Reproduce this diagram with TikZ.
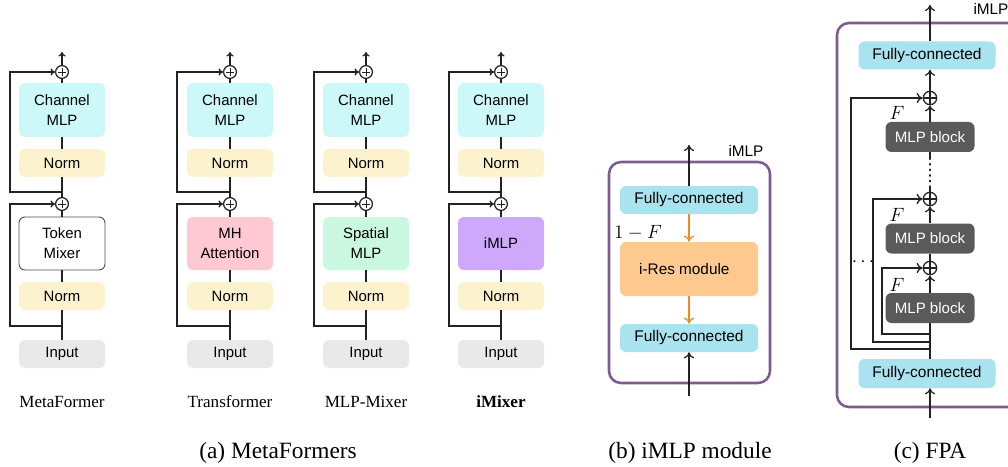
\documentclass[tikz,border=0pt]{standalone}
\usepackage{fontspec}
\setmainfont{Liberation Serif}
\setsansfont{Liberation Sans}
\usetikzlibrary{arrows.meta,calc}
\definecolor{cmlp}{HTML}{CDF8FA}
\definecolor{normc}{HTML}{FCF3CE}
\definecolor{inputc}{HTML}{E9E9E9}
\definecolor{attn}{HTML}{FFC9D4}
\definecolor{spatial}{HTML}{C9F7DF}
\definecolor{imlpc}{HTML}{CDA8FB}
\definecolor{fcc}{HTML}{A8E3EF}
\definecolor{iresc}{HTML}{FEC98E}
\definecolor{mlpblk}{HTML}{5A5A5A}
\definecolor{framec}{HTML}{7D5B8F}
\definecolor{orangec}{HTML}{F08A24}
\definecolor{linec}{HTML}{222222}
\newcommand{\mfcol}[5]{%
 \node[plusA] (#1p1) at (#2,72) {};
 \node[box,fill=cmlp,minimum height=40.5pt] (#1cm) at (#2,110) {Channel\\MLP};
 \node[box,fill=normc] (#1na) at (#2,163) {Norm};
 \node[plusA] (#1p2) at (#2,204) {};
 \node[box,#4,minimum height=39.75pt] (#1tm) at (#2,243.5) {#3};
 \node[box,fill=normc] (#1nb) at (#2,296) {Norm};
 \node[box,fill=inputc] (#1in) at (#2,354) {Input};
 \coordinate (#1top) at (#2,52);
 \coordinate (#1ja) at (#2,192);
 \coordinate (#1jb) at (#2,326);
 \draw[ln,arr] (#1p1) -- (#1top);
 \draw[ln] (#1p1) -- (#1cm);
 \draw[ln] (#1cm) -- (#1na);
 \draw[ln] (#1na) -- (#1p2);
 \draw[ln] (#1p2) -- (#1tm);
 \draw[ln] (#1tm) -- (#1nb);
 \draw[ln] (#1nb) -- (#1in);
 \draw[ln,arr] (#1ja) -- ++(-#5,0) |- (#1p1.west);
 \draw[ln,arr] (#1jb) -- ++(-#5,0) |- (#1p2.west);
}
\begin{document}
\begin{tikzpicture}[x=0.75pt,y=-0.75pt,
  ln/.style={draw=linec,line width=0.95pt},
  arr/.style={-{To[length=3.4pt,width=5.4pt]}},
  arrB/.style={-{To[length=4.6pt,width=7.6pt]}},
  box/.style={rectangle,rounded corners=4.5pt,minimum width=64.5pt,minimum height=21pt,
    inner sep=0pt,align=center,font=\sffamily\fontsize{11.2}{15}\selectfont,text=black},
  plusA/.style={circle,draw=linec,line width=0.9pt,minimum size=9.6pt,inner sep=0pt,fill=white,
    path picture={\draw[line width=0.7pt] ([xshift=-2.8pt]path picture bounding box.center) -- ([xshift=2.8pt]path picture bounding box.center);
      \draw[line width=0.7pt] ([yshift=-2.8pt]path picture bounding box.center) -- ([yshift=2.8pt]path picture bounding box.center);}},
  oplusC/.style={circle,draw=linec,line width=0.95pt,minimum size=10pt,inner sep=0pt,fill=white,
    path picture={\draw[line width=0.9pt] (path picture bounding box.west) -- (path picture bounding box.east);
      \draw[line width=0.9pt] (path picture bounding box.north) -- (path picture bounding box.south);}},
  fcbox/.style={box,fill=fcc,minimum width=103.5pt,minimum height=21pt,font=\sffamily\fontsize{11.6}{14}\selectfont},
  blk/.style={box,fill=mlpblk,text=white,minimum width=66.75pt,minimum height=22.5pt,font=\sffamily\fontsize{11.3}{14}\selectfont},
  lbl/.style={font=\fontsize{12.8}{15}\selectfont},
  captxt/.style={font=\fontsize{17.5}{20}\selectfont},
  mathlbl/.style={font=\fontsize{14}{16}\selectfont,inner sep=0pt},
  sflbl/.style={font=\sffamily\fontsize{11.5}{14}\selectfont,inner sep=0pt}
]
\useasboundingbox (0,0) rectangle (1008,467);
\begin{scope}
\clip (0,0) rectangle (1008,467);
% ---------- (a) MetaFormers ----------
\mfcol{a}{62}{Token\\Mixer}{fill=white,draw=linec!80,line width=0.7pt}{52}
\mfcol{b}{230}{MH\\Attention}{fill=attn}{53}
\mfcol{c}{366}{Spatial\\MLP}{fill=spatial}{52}
\mfcol{d}{501}{iMLP}{fill=imlpc}{52}
\node[lbl] (la) at (62,402) {MetaFormer};
\node[lbl] (lb) at (230,402) {Transformer};
\node[lbl] (lc) at (366,402) {MLP-Mixer};
\node[lbl] (ld) at (501,402) {\bfseries iMixer};
\node[captxt] (capa) at (278,453) {(a) MetaFormers};
% ---------- (b) iMLP module ----------
\draw[draw=framec,line width=1.9pt,rounded corners=9pt] (609,162) rectangle (770,383);
\node[fcbox] (bfa) at (689,200) {Fully-connected};
\node[box,fill=iresc,minimum width=103.5pt,minimum height=40.5pt,font=\sffamily\fontsize{11.5}{14}\selectfont] (bres) at (689,269) {\hspace*{-7pt}i-Res module};
\node[fcbox] (bfb) at (689,338) {Fully-connected};
\coordinate (btop) at (689,145);
\coordinate (bbot) at (689,396);
\draw[ln,arrB] (bfa) -- (btop);
\draw[ln,arrB] (bbot) -- (bfb);
\draw[draw=orangec,line width=0.95pt,arrB] (bfa) -- (bres);
\draw[draw=orangec,line width=0.95pt,arrB] (bres) -- (bfb);
\node[mathlbl] (bF) at (638,233) {$1-F$};
\node[sflbl] (bim) at (746,151) {iMLP};
\node[captxt] (capb) at (690,453) {(b) iMLP module};
% ---------- (c) FPA ----------
\draw[draw=framec,line width=1.9pt,rounded corners=9pt] (837,23) rectangle (1030,407);
\node[fcbox,minimum width=102.75pt] (cfa) at (927,55.5) {Fully-connected};
\node[oplusC] (cpa) at (930,98) {};
\node[blk] (cka) at (930,137) {MLP block};
\node[oplusC] (cpb) at (930,199) {};
\node[blk] (ckb) at (930,238.5) {MLP block};
\node[oplusC] (cpc) at (930,268) {};
\node[blk] (ckc) at (930,308) {MLP block};
\node[fcbox,minimum width=102.75pt,minimum height=21.75pt] (cfb) at (927,373.5) {Fully-connected};
\coordinate (ctop) at (930,5);
\coordinate (cbot) at (930,418);
\coordinate (cja) at (930,334);
\coordinate (cjb) at (930,342);
\coordinate (cjc) at (930,349);
\coordinate (cda) at (930,158);
\coordinate (cdb) at (930,186);
\draw[ln,arrB] (cfa.north -| ctop) -- (ctop);
\draw[ln,arrB] (cpa) -- (cfa.south -| cpa);
\draw[ln,arrB] (cka) -- (cpa);
\draw[ln] (cka) -- (cda);
\draw[draw=linec,line width=1pt,dash pattern=on 1pt off 3.2pt,line cap=round] (cda) -- (cdb);
\draw[ln] (cdb) -- (cpb);
\draw[ln,arrB] (ckb) -- (cpb);
\draw[ln] (cpc) -- (ckb);
\draw[ln,arrB] (ckc) -- (cpc);
\draw[ln] (cfb.north -| ckc) -- (ckc);
\draw[ln,arrB] (cbot) -- (cfb.south -| cbot);
\draw[ln,arrB] (cja) -- ++(-48,0) |- (cpc.west);
\draw[ln,arrB] (cjb) -- ++(-57,0) |- (cpb.west);
\draw[ln,arrB] (cjc) -- ++(-79,0) |- (cpa.west);
\node[mathlbl] (cFa) at (897,113) {$F$};
\node[mathlbl] (cFb) at (897,215) {$F$};
\node[mathlbl] (cFc) at (897,285) {$F$};
\node[mathlbl] (cdots) at (863,262) {$\cdots$};
\node[sflbl] (cim) at (991,9) {iMLP};
\node[captxt] (capc) at (930,453) {(c) FPA};
\end{scope}
\end{tikzpicture}
\end{document}
